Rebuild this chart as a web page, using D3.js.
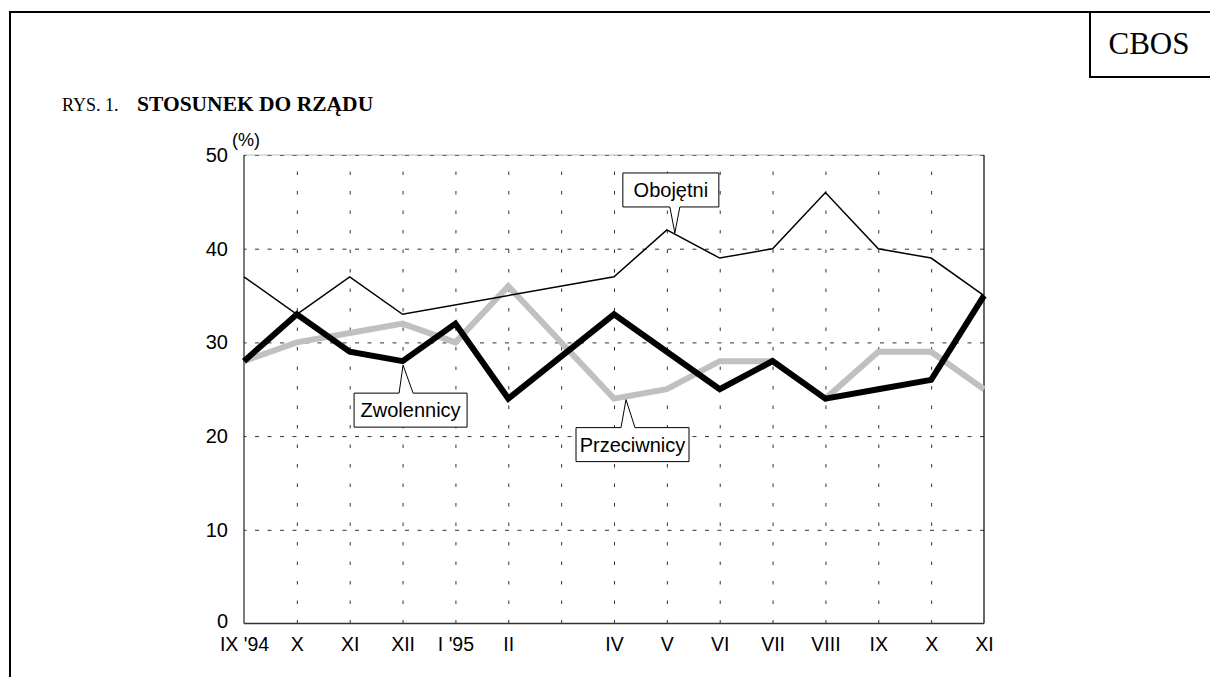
<!DOCTYPE html>
<html>
<head>
<meta charset="utf-8">
<script src="https://cdn.jsdelivr.net/npm/d3@7"></script>
<style>
  html, body { margin: 0; padding: 0; background: #fff; }
  svg { display: block; }
</style>
</head>
<body>
<svg id="chart" width="1210" height="677"></svg>
<script>
// ---- data ----
const months = ["IX '94","X","XI","XII","I '95","II","III","IV","V","VI","VII","VIII","IX","X","XI"];
const tickLabels = ["IX '94","X","XI","XII","I '95","II","","IV","V","VI","VII","VIII","IX","X","XI"];
const yTicks = [0,10,20,30,40,50];
const zwolennicy  = [28,33,29,28,32,24,null,33,29,25,28,24,25,26,35];
const przeciwnicy = [28,30,31,32,30,36,null,24,25,28,28,24,29,29,25];
const obojetni    = [37,33,37,33,null,null,null,37,42,39,40,46,40,39,35];
const seriesNames = ["Zwolennicy","Przeciwnicy","Obojętni"];

// ---- layout ----
const svg = d3.select("#chart");
const L = 244, R = 984, T = 155, B = 623.5;
const x = d3.scaleLinear().domain([0, months.length - 1]).range([L, R]);
const y = d3.scaleLinear().domain([0, 50]).range([B, T]);
const sans = "'Liberation Sans', Arial, sans-serif";
const serif = "'Liberation Serif', 'Times New Roman', serif";

// outer frame
svg.append("line").attr("x1", 10).attr("x2", 1210).attr("y1", 12).attr("y2", 12)
  .attr("stroke", "#000").attr("stroke-width", 2);
svg.append("line").attr("x1", 10).attr("x2", 10).attr("y1", 11).attr("y2", 677)
  .attr("stroke", "#000").attr("stroke-width", 2);
// CBOS box
svg.append("path").attr("d", "M1090,12 L1090,77 L1210,77")
  .attr("fill", "none").attr("stroke", "#000").attr("stroke-width", 2);
svg.append("text").attr("x", 1149).attr("y", 54).attr("text-anchor", "middle")
  .attr("font-family", serif).attr("font-size", 31).text("CBOS");

// title
const title = svg.append("text").attr("x", 62).attr("y", 111)
  .attr("font-family", serif).attr("font-size", 18);
title.append("tspan").text("RYS. 1.");
title.append("tspan").attr("x", 137).attr("font-weight", "bold").attr("font-size", 21.5)
  .text("STOSUNEK DO RZĄDU");

// (%) unit
svg.append("text").attr("x", 232).attr("y", 146)
  .attr("font-family", sans).attr("font-size", 18).text("(%)");

const g = svg.append("g");

// horizontal grid
const hGrid = g.append("g").attr("transform", `translate(${L},0)`)
  .call(d3.axisLeft(y).tickValues(yTicks.filter(v => v > 0)).tickSize(-(R - L)).tickFormat(""));
hGrid.select(".domain").remove();
hGrid.selectAll("line").attr("stroke", "#333").attr("stroke-width", 1)
  .attr("stroke-dasharray", "4 8.5").attr("stroke-dashoffset", 1.5);

// vertical grid
const vGrid = g.append("g").attr("transform", `translate(0,${B})`)
  .call(d3.axisBottom(x).tickValues(d3.range(1, months.length - 1)).tickSize(-(B - T)).tickFormat(""));
vGrid.select(".domain").remove();
vGrid.selectAll("line").attr("stroke", "#333").attr("stroke-width", 1)
  .attr("stroke-dasharray", "3.5 16");

// frame of plot
g.append("line").attr("x1", L).attr("x2", R).attr("y1", T).attr("y2", T)
  .attr("stroke", "#aaa").attr("stroke-width", 0.8);
g.append("line").attr("x1", L).attr("x2", L).attr("y1", T).attr("y2", B)
  .attr("stroke", "#222").attr("stroke-width", 1.2);
g.append("line").attr("x1", R).attr("x2", R).attr("y1", T).attr("y2", B)
  .attr("stroke", "#000").attr("stroke-width", 1.2);
g.append("line").attr("x1", L).attr("x2", R).attr("y1", B).attr("y2", B)
  .attr("stroke", "#333").attr("stroke-width", 1.6);

// y axis labels
const yAx = g.append("g").attr("transform", `translate(${L},0)`)
  .call(d3.axisLeft(y).tickValues(yTicks).tickSize(0).tickPadding(16));
yAx.select(".domain").remove();
yAx.selectAll("text").attr("font-family", sans).attr("font-size", 20).attr("fill", "#000");
yAx.selectAll("text").filter(d => d === 0).attr("dy", "0.2em");

// x axis labels
const xAx = g.append("g").attr("transform", `translate(0,${B})`)
  .call(d3.axisBottom(x).tickValues(d3.range(months.length)).tickSize(0).tickPadding(14)
    .tickFormat(i => tickLabels[i]));
xAx.select(".domain").remove();
xAx.selectAll("text").attr("font-family", sans).attr("font-size", 19.5).attr("fill", "#000");

// lines (connected across missing months)
const lineSkip = data => {
  const pts = data.map((v, i) => [i, v]).filter(p => p[1] != null);
  return d3.line().x(p => x(p[0])).y(p => y(p[1]))(pts);
};
g.append("path").attr("d", lineSkip(przeciwnicy)).attr("fill", "none")
  .attr("stroke", "#c0c0c0").attr("stroke-width", 6).attr("stroke-linejoin", "miter");
g.append("path").attr("d", lineSkip(zwolennicy)).attr("fill", "none")
  .attr("stroke", "#000").attr("stroke-width", 6).attr("stroke-linejoin", "miter");
g.append("path").attr("d", lineSkip(obojetni)).attr("fill", "none")
  .attr("stroke", "#000").attr("stroke-width", 1.5).attr("stroke-linejoin", "miter");

// callouts
function callout(text, tip, box, base, up) {
  const [bx0, by0, bx1, by1] = box;
  const [p0, p1] = base;
  let d;
  if (up) {
    d = `M${bx0},${by0} L${p0},${by0} L${tip[0]},${tip[1]} L${p1},${by0} L${bx1},${by0} L${bx1},${by1} L${bx0},${by1} Z`;
  } else {
    d = `M${bx0},${by0} L${bx1},${by0} L${bx1},${by1} L${p1},${by1} L${tip[0]},${tip[1]} L${p0},${by1} L${bx0},${by1} Z`;
  }
  g.append("path").attr("d", d).attr("fill", "#fff").attr("stroke", "#000").attr("stroke-width", 1);
  g.append("text").attr("x", (bx0 + bx1) / 2).attr("y", (by0 + by1) / 2 + 7)
    .attr("text-anchor", "middle").attr("font-family", sans).attr("font-size", 20).text(text);
}
// Obojętni at V
{
  const tx = x(8) + 8, ty = y(obojetni[8]) + 3;
  callout(seriesNames[2], [tx, ty], [tx - 52, ty - 60, tx + 44, ty - 26], [tx - 5, tx + 5], false);
}
// Zwolennicy at XII
{
  const tx = x(3) + 0.5, ty = y(zwolennicy[3]) + 4;
  callout(seriesNames[0], [tx, ty], [tx - 49, ty + 28, tx + 64, ty + 62], [tx - 4, tx + 10], true);
}
// Przeciwnicy at IV
{
  const tx = x(7) + 12, ty = y(przeciwnicy[7]) + 1;
  callout(seriesNames[1], [tx, ty], [tx - 50, ty + 28, tx + 63, ty + 62], [tx - 5, tx + 9], true);
}
</script>
</body>
</html>
